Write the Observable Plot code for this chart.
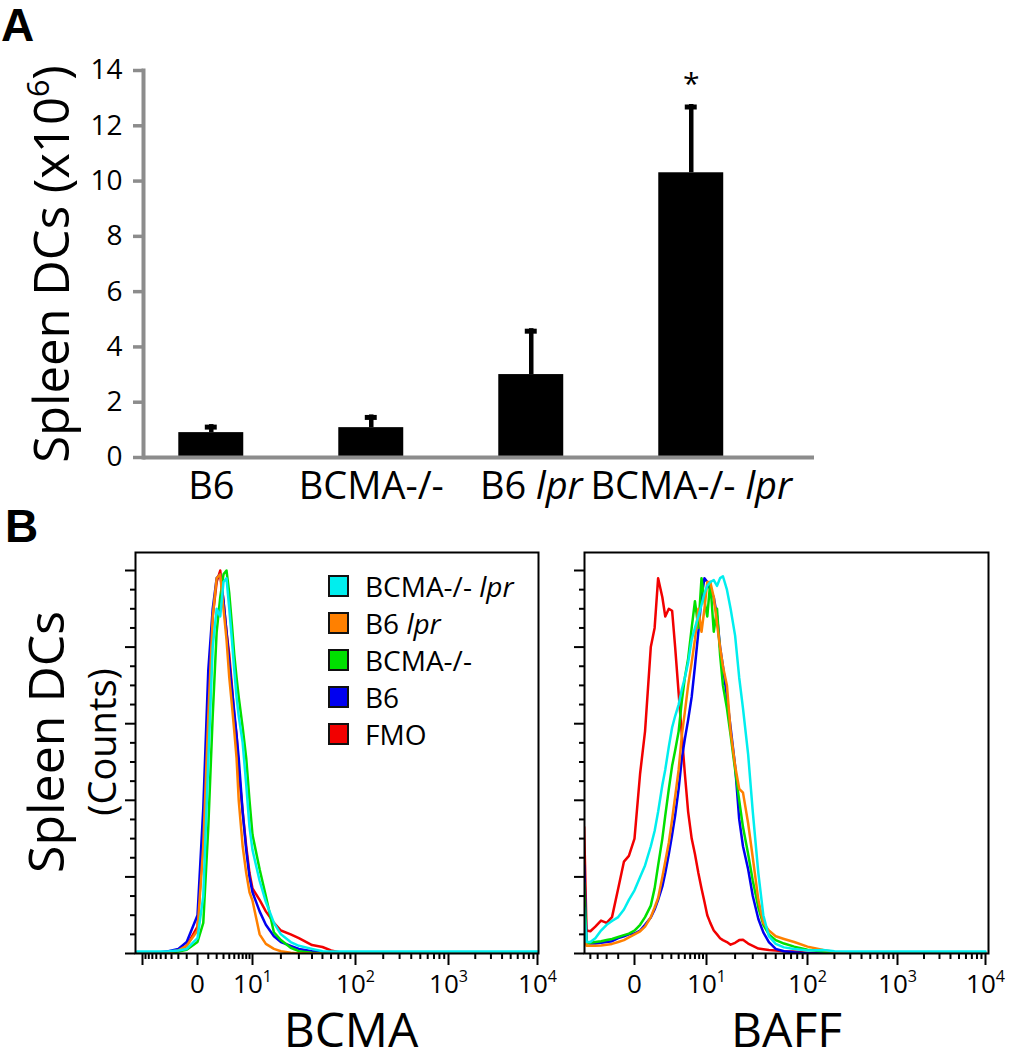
<!DOCTYPE html>
<html>
<head>
<meta charset="utf-8">
<script src="https://cdn.jsdelivr.net/npm/d3@7"></script>
<script src="https://cdn.jsdelivr.net/npm/@observablehq/plot@0.6"></script>
<style>
  html, body { margin: 0; padding: 0; background: #fff; }
  #page { position: relative; width: 1010px; height: 1050px; overflow: hidden; font-family: "Open Sans", sans-serif; }
  .panel-letter { position: absolute; font-family: "Liberation Sans", Arial, sans-serif; font-weight: bold; font-size: 46px; line-height: 46px; color: #000; }
  .leg-row { position: absolute; height: 22px; white-space: nowrap; }
  .leg-box { position: absolute; left: 0; top: 0; width: 21px; height: 22px; box-sizing: border-box; border: 2px solid #111; }
  .leg-text { position: absolute; left: 37px; top: -3px; font-size: 28px; line-height: 28px; color: #000; }
</style>
</head>
<body>
<div id="page"></div>
<script>
// ---------------- Panel A data ----------------
const groups = ["B6", "BCMA-/-", "B6 lpr", "BCMA-/- lpr"];
const dcMeans = [0.9, 1.08, 3.0, 10.3];
const dcErrors = [0.29, 0.46, 1.66, 2.47];
const dcSignificance = ["", "", "", "*"];
const yTicksA = [0, 2, 4, 6, 8, 10, 12, 14];
const yLabelA = "Spleen DCs (x10^6)";

// ---------------- Panel B data ----------------
const histSeries = ["FMO", "B6", "BCMA-/-", "B6 lpr", "BCMA-/- lpr"];
const histColors = ["#f20000", "#0000f0", "#00e000", "#ff8000", "#00eeee"];

// BCMA histogram (x: fluorescence, y: % of max)
const bcmaX = [-12, -5, -3.5, -2, -1, 0, 0.5, 1, 1.5, 2, 2.5, 3, 3.5, 4, 4.5, 5, 5.5, 6, 7, 8, 9, 10, 12, 14, 17, 20, 25, 30, 40, 50, 60, 80, 100, 1000, 10000];
const bcmaFMO     = [0, 0.2, 0.4, 0.8, 2, 7, 30, 65, 88, 97, 100, 92, 84, 78, 70, 62, 57, 48, 37, 28, 21, 17, 14, 11, 8, 6, 5, 4, 2.2, 1.7, 0.8, 0, 0, 0, 0];
const bcmaB6      = [0, 0.3, 0.6, 1.2, 3, 10, 38, 74, 90, 98, 99, 92, 84, 76, 69, 63, 57, 51, 37, 27, 20, 16, 11, 7.5, 4.5, 3, 2, 1.2, 0.6, 0.3, 0.1, 0, 0, 0, 0];
const bcmaBCMA    = [0, 0.2, 0.3, 0.5, 1, 3, 8, 33, 62, 84, 93, 99, 100, 94, 86, 78, 72, 67, 59, 51, 40, 31, 22, 15, 5.5, 3.5, 1.5, 0.6, 0.2, 0, 0, 0, 0, 0, 0];
const bcmaB6lpr   = [0, 0.2, 0.4, 0.8, 2, 6, 28, 62, 88, 98, 99, 90, 82, 72, 65, 58, 51, 40, 28, 21, 16, 13.8, 5, 2.5, 1.2, 0.6, 0.2, 0, 0, 0, 0, 0, 0, 0, 0];
const bcmaBCMAlpr = [0.5, 0.5, 0.6, 0.8, 1.2, 4, 15, 50, 80, 90, 88, 97, 98, 90, 82, 74, 67, 62, 55, 44, 33, 27, 19, 13.5, 8, 5, 3, 2, 1.2, 0.6, 0.5, 0.5, 0.5, 0.5, 0.5];

// BAFF histogram
const baffX = [-5, -4.6, -4, -3.3, -2.6, -2, -1.5, -1, -0.6, -0.3, 0, 0.3, 0.6, 1, 1.3, 1.6, 2, 2.3, 2.7, 3.1, 3.5, 4, 4.5, 5, 5.6, 6.3, 7, 7.8, 8.6, 9.4, 10.2, 11, 12, 13, 14, 15, 16.5, 18, 20, 22, 24, 27, 30, 34, 38, 43, 50, 60, 75, 100, 150, 200, 300, 1000, 10000];
const baffFMO     = [33, 6, 5.8, 7, 8.6, 8, 9.5, 17, 24, 25.5, 30, 47, 58, 80, 85, 98, 93, 88, 90, 89.5, 80, 68, 57, 47, 37, 30, 26, 21, 17, 13.5, 10, 8, 6, 5, 4, 3.5, 3, 2.3, 2.8, 3.5, 3.6, 2.6, 2, 1.3, 1.1, 0.9, 0.8, 0.6, 0.5, 0.2, 0, 0, 0, 0, 0];
const baffB6      = [23, 3, 2.6, 2.6, 2.8, 3, 3.2, 4, 4.5, 5, 5.2, 6, 7.5, 9.4, 11.5, 14, 17.5, 21, 26, 31, 36, 43, 51, 56, 61, 67, 75, 84, 93, 98, 97, 95, 93, 88, 80, 75, 67, 59, 49, 35, 28, 22, 15, 9, 5.5, 3, 1.2, 0.6, 0.3, 0, 0, 0, 0, 0, 0];
const baffBCMA    = [18.5, 2.5, 2.8, 3, 3.2, 3.5, 3.8, 4.3, 4.8, 5.2, 6, 7.5, 9.5, 12.5, 17, 23, 30, 36, 43, 49, 53, 58, 66, 72, 77, 85, 92, 85, 98, 92, 88, 97, 84, 90, 78, 70, 64, 57, 48, 40, 33, 26, 19, 12, 7.5, 5, 3.5, 2.6, 1.8, 1, 0.5, 0.2, 0, 0, 0];
const baffB6lpr   = [8, 2, 2, 2, 2.1, 2.3, 2.5, 3, 3.5, 4.2, 5, 5.8, 7, 9.5, 12, 14.5, 20, 24, 29, 35, 41, 48, 57, 63, 70, 76, 82, 90, 84, 90, 97, 97, 93, 86, 80, 75, 70, 58, 49, 43, 42, 34, 25, 14, 8, 6, 4.5, 3.8, 3, 1.8, 0.9, 0.4, 0, 0, 0];
const baffBCMAlpr = [12, 3, 3, 4, 6, 7.5, 8.5, 9.5, 11.5, 14, 16.5, 20, 23, 28, 32, 37, 44, 48, 54, 59, 62, 65, 69, 72, 76, 82, 85, 88, 91, 94, 96, 97, 97.5, 96, 98, 98.5, 95, 90, 83, 72, 64, 52, 37, 21, 10, 4.5, 2.5, 1.6, 1.2, 0.8, 0.9, 0.6, 0.5, 0.5, 0.5];

// axis ticks
const bcmaMajorTicks = [-10, 0, 10, 100, 1000, 10000];
const bcmaMajorLabels = ["", "0", "10^1", "10^2", "10^3", "10^4"];
const baffMajorTicks = [0, 10, 100, 1000, 10000];
const baffMajorLabels = ["0", "10^1", "10^2", "10^3", "10^4"];
const logMinorTicks = [1,2,3,4,5,6,7,8,9,20,30,40,50,60,70,80,90,200,300,400,500,600,700,800,900,2000,3000,4000,5000,6000,7000,8000,9000];
const bcmaNegMinorTicks = [-9,-8,-7,-6,-5,-4,-3,-2,-1];
const baffNegMinorTicks = [-4,-3,-2,-1];
const yMajorTicks = [0, 20, 40, 60, 80, 100];
const yMinorTicks = [5,10,15,25,30,35,45,50,55,65,70,75,85,90,95];

// ---------------- helpers ----------------
const SVGNS = "http://www.w3.org/2000/svg";
function richify(root) {
  root.querySelectorAll("text").forEach(t => {
    const s = t.textContent;
    if (!/\^|lpr/.test(s)) return;
    const parts = s.split(/(lpr|\^\d)/).filter(p => p !== "");
    while (t.firstChild) t.removeChild(t.firstChild);
    let raised = false;
    parts.forEach(p => {
      const ts = document.createElementNS(SVGNS, "tspan");
      if (p === "lpr") {
        ts.setAttribute("font-style", "italic");
        ts.textContent = p;
        if (raised) { ts.setAttribute("dy", "0.40em"); raised = false; }
      } else if (p[0] === "^") {
        ts.textContent = p.slice(1);
        ts.setAttribute("font-size", "0.62em");
        ts.setAttribute("dy", "-0.65em");
        raised = true;
      } else {
        ts.textContent = p;
        if (raised) { ts.setAttribute("dy", "0.40em"); raised = false; }
      }
      t.appendChild(ts);
    });
  });
}
const page = document.getElementById("page");
function place(el, left, top) {
  el.style.position = "absolute";
  el.style.left = left + "px";
  el.style.top = top + "px";
  page.appendChild(el);
}
const baseStyle = {fontFamily: "'Open Sans', sans-serif", background: "transparent", overflow: "visible", color: "#000"};

// ---------------- Panel A ----------------
const gray = "#8c8c8c";
const barData = groups.map((g, i) => ({group: g, mean: dcMeans[i], upper: dcMeans[i] + dcErrors[i], sig: dcSignificance[i]}));
const chartA = Plot.plot({
  width: 1010, height: 510,
  marginLeft: 143, marginRight: 196, marginTop: 70, marginBottom: 53,
  style: baseStyle,
  x: {type: "band", domain: groups, paddingInner: 0.594, paddingOuter: 0.394, align: 0.28, round: false},
  y: {domain: [0, 14]},
  marks: [
    Plot.ruleX(barData, {x: "group", y1: "mean", y2: "upper", stroke: "#000", strokeWidth: 4.5}),
    Plot.barY(barData, {x: "group", y: "mean", fill: "#000"}),
    Plot.tickY(barData, {x: "group", y: "upper", stroke: "#000", strokeWidth: 5, insetLeft: 26.5, insetRight: 26.5, dy: 2.5}),
    Plot.text(barData, {x: "group", y: "upper", text: "sig", fontSize: 30, dy: -11, lineAnchor: "bottom"}),
    Plot.frame({anchor: "left", stroke: gray, strokeWidth: 4}),
    Plot.ruleY([0], {stroke: gray, strokeWidth: 4}),
    Plot.axisY(yTicksA, {tickSize: 10, tickPadding: 11, stroke: gray, strokeWidth: 3.5, fontSize: 28, label: null}),
    Plot.axisX({tickSize: 0, tickPadding: 15, fontSize: 38, label: null}),
    Plot.text([yLabelA], {frameAnchor: "left", textAnchor: "middle", rotate: -90, dx: -75, fontSize: 49, lineAnchor: "bottom"})
  ]
});
richify(chartA);
place(chartA, 0, 0);

// ---------------- Panel B ----------------
function histogram(cfg) {
  const data = [];
  cfg.series.forEach((ys, k) => ys.forEach((y, i) => data.push({name: histSeries[k], x: cfg.xs[i], y})));
  const labelOf = new Map(cfg.majors.map((v, i) => [v, cfg.majorLabels[i]]));
  const marks = [
    Plot.line(data, {x: "x", y: "y", z: "name", stroke: "name", strokeWidth: 2.5, clip: true}),
    Plot.frame({stroke: "#000", strokeWidth: 2}),
    Plot.axisY(yMajorTicks, {tickSize: 10, tickFormat: () => "", strokeWidth: 2, label: null}),
    Plot.axisY(yMinorTicks, {tickSize: 5, tickFormat: () => "", strokeWidth: 2, label: null}),
    Plot.axisX(cfg.minors, {tickSize: 6, tickFormat: () => "", strokeWidth: 2, label: null}),
    Plot.axisX(cfg.majors, {tickSize: 12, tickPadding: 9, tickFormat: d => labelOf.get(d), fontSize: 26, strokeWidth: 2, label: null}),
    Plot.text([cfg.label], {frameAnchor: "bottom", textAnchor: "middle", dx: cfg.labelDx, dy: 93, lineAnchor: "bottom", fontSize: 48}),
    ...(cfg.extra || [])
  ];
  return Plot.plot({
    width: cfg.width, height: 550,
    marginLeft: cfg.marginLeft, marginRight: cfg.marginRight, marginTop: 52, marginBottom: 97,
    style: baseStyle,
    x: {type: "symlog", constant: cfg.constant, domain: cfg.majors, range: cfg.range},
    y: {domain: [0, 104.7]},
    color: {domain: histSeries, range: histColors},
    marks
  });
}

const chartBCMA = histogram({
  xs: bcmaX,
  series: [bcmaFMO, bcmaB6, bcmaBCMA, bcmaB6lpr, bcmaBCMAlpr],
  majors: bcmaMajorTicks, majorLabels: bcmaMajorLabels,
  minors: bcmaNegMinorTicks.concat(logMinorTicks),
  constant: 3,
  range: [142, 197, 252, 355, 448, 537],
  width: 560, marginLeft: 135, marginRight: 22,
  label: "BCMA", labelDx: 14,
  extra: [
    Plot.text(["Spleen DCs"], {frameAnchor: "left", textAnchor: "middle", rotate: -90, dx: -72, dy: -11, fontSize: 50, lineAnchor: "bottom"}),
    Plot.text(["(Counts)"], {frameAnchor: "left", textAnchor: "middle", rotate: -90, dx: -20, dy: -11, fontSize: 38, lineAnchor: "bottom"})
  ]
});
richify(chartBCMA);
place(chartBCMA, 0, 500);

const baffLeft = 560;
const chartBAFF = histogram({
  xs: baffX,
  series: [baffFMO, baffB6, baffBCMA, baffB6lpr, baffBCMAlpr],
  majors: baffMajorTicks, majorLabels: baffMajorLabels,
  minors: baffNegMinorTicks.concat(logMinorTicks),
  constant: 2,
  range: [634, 706, 807, 897, 985].map(v => v - baffLeft),
  width: 450, marginLeft: 24, marginRight: 22,
  label: "BAFF", labelDx: 0
});
richify(chartBAFF);
place(chartBAFF, baffLeft, 500);

// ---------------- Legend ----------------
const legendOrder = [4, 3, 2, 1, 0];
legendOrder.forEach((k, r) => {
  const row = document.createElement("div");
  row.className = "leg-row";
  const box = document.createElement("div");
  box.className = "leg-box";
  box.style.background = histColors[k];
  const txt = document.createElement("div");
  txt.className = "leg-text";
  txt.innerHTML = histSeries[k].replace("lpr", "<i>lpr</i>");
  row.appendChild(box);
  row.appendChild(txt);
  place(row, 328, 575 + 37 * r);
});

// ---------------- Panel letters ----------------
[["A", 1, 2], ["B", 5, 503]].forEach(([t, l, tp]) => {
  const d = document.createElement("div");
  d.className = "panel-letter";
  d.textContent = t;
  place(d, l, tp);
});
</script>
</body>
</html>
